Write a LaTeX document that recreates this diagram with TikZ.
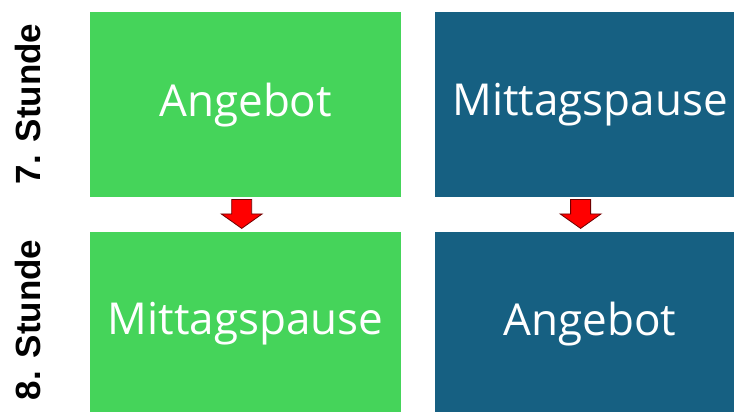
\documentclass[tikz,border=0pt]{standalone}
\usepackage{fontspec}
\setmainfont{Open Sans}
\newfontfamily\labelfont{Liberation Sans}
\usepackage{xcolor}
\usetikzlibrary{positioning}

\definecolor{kgreen}{RGB}{69,212,90}
\definecolor{kblue}{RGB}{22,96,130}
\definecolor{kred}{RGB}{255,0,0}
\definecolor{kdarkred}{RGB}{110,0,0}

\tikzset{
  slot/.style={minimum width=311pt, minimum height=185pt, inner sep=0pt,
    text=white, font=\fontsize{44}{50}\selectfont},
  hour/.style={rotate=90, inner sep=0pt, text=black,
    font=\labelfont\bfseries\fontsize{35}{40}\selectfont},
  swaparrow/.pic={
    \filldraw[fill=kred, draw=kdarkred, line width=0.8pt]
      (-10,0) -- (10,0) -- (10,14.5) -- (20.5,14.5) -- (0,29)
      -- (-20.5,14.5) -- (-10,14.5) -- cycle;
  }
}

\begin{document}
\begin{tikzpicture}[x=1pt,y=-1pt]
                \clip (0,0) rectangle (734,412);
                \fill[white] (0,0) rectangle (734,412);
                % 7. Stunde
                \node[slot, fill=kgreen, anchor=north west] (ang7) at (90,12) {Angebot};
                \node[slot, fill=kblue, right=33pt of ang7] (mit7) {Mittagspause};
                % 8. Stunde
                \node[slot, fill=kgreen, below=34pt of ang7] (mit8) {Mittagspause};
                \node[slot, fill=kblue, right=33pt of mit8] (ang8) {Angebot};
                \node[hour] (h7) at (27.5,104) {7. Stunde};
                \node[hour] (h8) at (27.5,320) {8. Stunde};
                % Pfeile
                \coordinate (sw1) at ([xshift=-4pt]ang7.south);
                \coordinate (sw2) at ([xshift=-9.5pt]mit7.south);
                \pic at ([yshift=-2pt]sw1) {swaparrow};
                \pic at ([yshift=-2pt]sw2) {swaparrow};
            \end{tikzpicture}
\end{document}
